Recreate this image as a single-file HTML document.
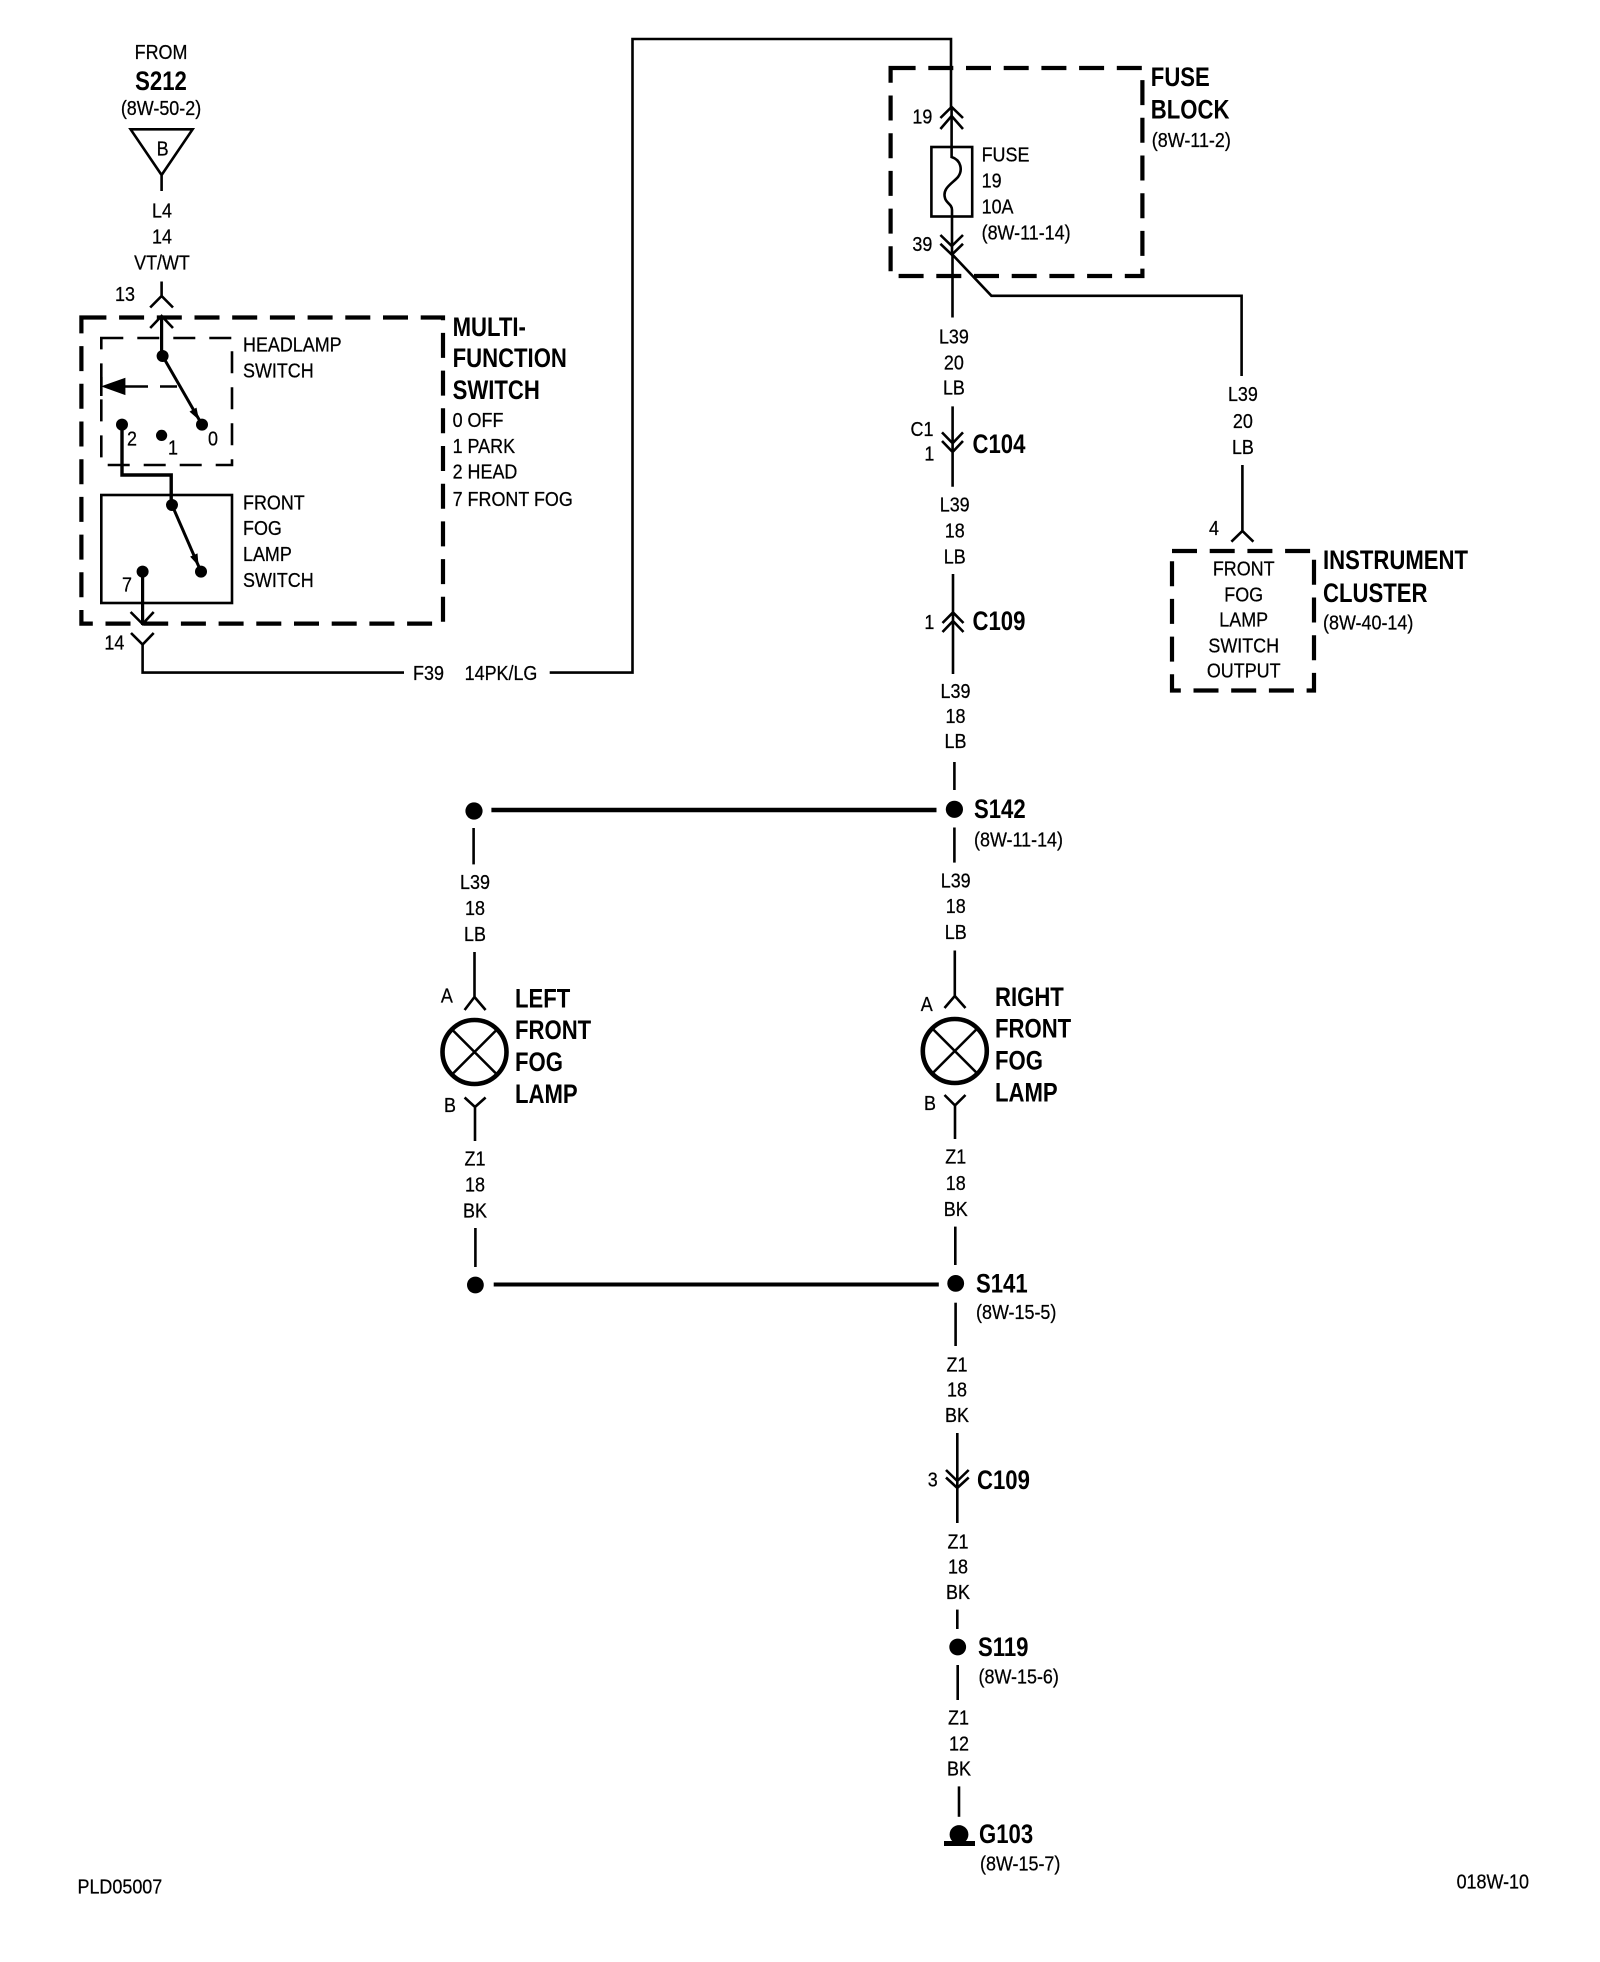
<!DOCTYPE html>
<html lang="en"><head><meta charset="utf-8"><title>Front Fog Lamp Wiring Diagram</title>
<style>
html,body{margin:0;padding:0;background:#fff}
svg{display:block}
text{font-family:"Liberation Sans",Arial,sans-serif;fill:#000}
.r{font-size:20.5px;stroke:#000;stroke-width:.25px;translate:0 -1px}
.b{font-size:27px;font-weight:bold;translate:-1px -1px}
.m{text-anchor:middle}
.l{fill:none;stroke:#000;stroke-width:2.6}
.t{fill:none;stroke:#000;stroke-width:4.6}
.d{fill:none;stroke:#000;stroke-width:4.2;stroke-dasharray:25 12.7}
.s{fill:none;stroke:#000;stroke-width:2.6;stroke-dasharray:22 14}
</style></head><body>
<svg width="1600" height="1962" viewBox="0 0 1600 1962" xmlns="http://www.w3.org/2000/svg">
<rect width="1600" height="1962" fill="#fff"/>

<!-- top-left source -->
<text class="r m" transform="translate(161 60) scale(.875 1)">FROM</text>
<text class="b m" transform="translate(162 91) scale(.82 1)">S212</text>
<text class="r m" transform="translate(161 116) scale(.875 1)">(8W-50-2)</text>
<text class="r m" transform="translate(162.6 156.5) scale(.875 1)">B</text>
<text class="r m" transform="translate(162 218.5) scale(.875 1)">L4</text>
<text class="r m" transform="translate(162 244.5) scale(.875 1)">14</text>
<text class="r m" transform="translate(162 270.5) scale(.875 1)">VT/WT</text>
<text class="r m" transform="translate(125 302) scale(.875 1)">13</text>
<path class="l" d="M130.6 129.3H192.6L161.6 175ZM161.6 175V191"/>
<path class="l" d="M161.6 281.5V296M150.2 307.5L161.6 296L173 307.5"/>
<path class="l" d="M150.2 328L161.6 316L173 328"/>
<path class="t" d="M161.6 316V356" style="stroke-width:3.2"/>

<!-- multi-function switch -->
<path class="d" d="M81.4 317.5H443V623.6H81.4Z"/>
<path class="s" d="M101.3 338H232V465H101.3Z"/>
<rect class="l" x="101.3" y="495" width="130.7" height="108"/>
<circle cx="162.6" cy="356" r="6"/>
<circle cx="202" cy="424.6" r="6"/>
<circle cx="122" cy="424.6" r="6"/>
<circle cx="161.6" cy="435.4" r="5.6"/>
<path class="l" d="M162.6 356L202 424.6" style="stroke-width:3"/>
<polygon points="199,420 196.5,407.6 189.5,411.6"/>
<polygon points="101,386.4 125.4,377.7 125.4,395.1"/>
<path class="l" d="M125 386.5H148M160 386.5H177"/>
<path class="l" d="M101.3 377V396"/>
<path class="l" d="M122 424.6V475H171.2V505" style="stroke-width:3.4"/>
<circle cx="172" cy="505" r="6"/>
<path class="l" d="M172 505L201 571.6" style="stroke-width:3"/>
<polygon points="198.6,566 197.5,553.4 190.1,556.6"/>
<circle cx="201" cy="571.6" r="6"/>
<circle cx="142.6" cy="571.6" r="6"/>
<path class="l" d="M142.6 571.6V625" style="stroke-width:3.2"/>
<path class="l" d="M130.6 612L142.6 624L153.7 612"/>
<path class="l" d="M131 633L142.6 644.5L153.7 633"/>
<path class="l" d="M142.6 644.5V672.6H404M549.7 672.6H632.5V39H951V107"/>

<text class="r m" transform="translate(132 446.5) scale(.875 1)">2</text>
<text class="r m" transform="translate(173 455.5) scale(.875 1)">1</text>
<text class="r m" transform="translate(213 446.5) scale(.875 1)">0</text>
<text class="r m" transform="translate(127 592.5) scale(.875 1)">7</text>
<text class="r m" transform="translate(114.4 650.5) scale(.875 1)">14</text>
<text class="r m" transform="translate(428.5 681) scale(.875 1)">F39</text>
<text class="r m" transform="translate(501 681) scale(.875 1)">14PK/LG</text>

<text class="r" transform="translate(243 352.5) scale(.875 1)">HEADLAMP</text>
<text class="r" transform="translate(243 378.5) scale(.875 1)">SWITCH</text>
<text class="r" transform="translate(243 510.5) scale(.875 1)">FRONT</text>
<text class="r" transform="translate(243 536) scale(.875 1)">FOG</text>
<text class="r" transform="translate(243 562) scale(.875 1)">LAMP</text>
<text class="r" transform="translate(243 588) scale(.875 1)">SWITCH</text>
<text class="b" transform="translate(453.6 337) scale(.82 1)">MULTI-</text>
<text class="b" transform="translate(453.6 368) scale(.82 1)">FUNCTION</text>
<text class="b" transform="translate(453.6 400) scale(.82 1)">SWITCH</text>
<text class="r" transform="translate(452.6 428) scale(.875 1)">0 OFF</text>
<text class="r" transform="translate(452.6 454) scale(.875 1)">1 PARK</text>
<text class="r" transform="translate(452.6 479.5) scale(.875 1)">2 HEAD</text>
<text class="r" transform="translate(452.6 507) scale(.875 1)">7 FRONT FOG</text>

<!-- fuse block -->
<path class="d" d="M890.6 68H1142.4V276H890.6Z"/>
<path class="l" d="M940.4 118L951.6 107L963 118M940.4 129L951.6 116L963 129"/>
<path class="l" d="M951.6 107V157C961 160 963 170 958 177C953 183 942 188 945 198C946 203 952 204 952 210V254"/>
<rect class="l" x="931.4" y="147" width="40.8" height="69.5"/>
<path class="l" d="M940.4 235L951.8 246L963 235M940.4 243.8L951.8 254.7L963 243.8"/>
<path class="l" d="M952.5 254.7V317.5M952.5 254.7L991.4 295.8H1241.6V376"/>
<text class="r m" transform="translate(922.4 124.5) scale(.875 1)">19</text>
<text class="r m" transform="translate(922.4 252) scale(.875 1)">39</text>
<text class="r" transform="translate(981.6 162.5) scale(.875 1)">FUSE</text>
<text class="r" transform="translate(981.6 188.5) scale(.875 1)">19</text>
<text class="r" transform="translate(981.6 214.5) scale(.875 1)">10A</text>
<text class="r" transform="translate(981.6 240.5) scale(.875 1)">(8W-11-14)</text>
<text class="b" transform="translate(1151.8 87) scale(.82 1)">FUSE</text>
<text class="b" transform="translate(1151.8 119.4) scale(.82 1)">BLOCK</text>
<text class="r" transform="translate(1151.8 148) scale(.875 1)">(8W-11-2)</text>

<!-- main vertical top -->
<text class="r m" transform="translate(953.9 344.5) scale(.875 1)">L39</text>
<text class="r m" transform="translate(953.9 370.5) scale(.875 1)">20</text>
<text class="r m" transform="translate(953.9 395.5) scale(.875 1)">LB</text>
<path class="l" d="M952.6 406.4V486.7M942 432.4L952.6 443.3L963 432.4M942 441L952.6 452L963 441"/>
<text class="r m" transform="translate(922 437) scale(.875 1)">C1</text>
<text class="r m" transform="translate(929.4 461.5) scale(.875 1)">1</text>
<text class="b" transform="translate(973.5 454) scale(.82 1)">C104</text>
<text class="r m" transform="translate(954.7 512.5) scale(.875 1)">L39</text>
<text class="r m" transform="translate(954.7 538.5) scale(.875 1)">18</text>
<text class="r m" transform="translate(954.7 564.5) scale(.875 1)">LB</text>
<path class="l" d="M953 574V674M942.5 623L953 612.4L963.5 623M942.5 632L953 621L963.5 632"/>
<text class="r m" transform="translate(929.4 630) scale(.875 1)">1</text>
<text class="b" transform="translate(973.5 631) scale(.82 1)">C109</text>
<text class="r m" transform="translate(955.5 699) scale(.875 1)">L39</text>
<text class="r m" transform="translate(955.5 724) scale(.875 1)">18</text>
<text class="r m" transform="translate(955.5 749) scale(.875 1)">LB</text>
<path class="l" d="M954.4 762V790"/>

<!-- instrument cluster -->
<text class="r m" transform="translate(1242.9 402) scale(.875 1)">L39</text>
<text class="r m" transform="translate(1242.9 429) scale(.875 1)">20</text>
<text class="r m" transform="translate(1242.9 455) scale(.875 1)">LB</text>
<path class="l" d="M1242.4 465V531M1231.4 541.7L1242.4 531L1253.4 541.7"/>
<text class="r m" transform="translate(1214 536) scale(.875 1)">4</text>
<path class="d" d="M1172 551H1314V690.5H1172Z"/>
<text class="r m" transform="translate(1243.7 576.5) scale(.875 1)">FRONT</text>
<text class="r m" transform="translate(1243.7 602.5) scale(.875 1)">FOG</text>
<text class="r m" transform="translate(1243.7 627.5) scale(.875 1)">LAMP</text>
<text class="r m" transform="translate(1243.7 653.5) scale(.875 1)">SWITCH</text>
<text class="r m" transform="translate(1243.7 678.5) scale(.875 1)">OUTPUT</text>
<text class="b" transform="translate(1324 570) scale(.82 1)">INSTRUMENT</text>
<text class="b" transform="translate(1324 603) scale(.82 1)">CLUSTER</text>
<text class="r" transform="translate(1323 630.5) scale(.875 1)">(8W-40-14)</text>

<!-- splice S142 -->
<circle cx="954.4" cy="809.3" r="8.6"/>
<circle cx="474" cy="811" r="8.6"/>
<path class="t" d="M491.4 810H936.5"/>
<text class="b" transform="translate(975 819) scale(.82 1)">S142</text>
<text class="r" transform="translate(974 847.5) scale(.875 1)">(8W-11-14)</text>

<!-- left lamp -->
<path class="l" d="M473.6 828V864.4"/>
<text class="r m" transform="translate(475 890) scale(.875 1)">L39</text>
<text class="r m" transform="translate(475 916) scale(.875 1)">18</text>
<text class="r m" transform="translate(475 942) scale(.875 1)">LB</text>
<path class="l" d="M474.5 952V997M464.6 1010L474.5 997L485.6 1010"/>
<circle class="t" cx="474.5" cy="1052" r="32"/>
<path class="l" d="M451.5 1029L497.5 1075M497.5 1029L451.5 1075"/>
<text class="r m" transform="translate(446.8 1003.5) scale(.875 1)">A</text>
<text class="r m" transform="translate(450 1113) scale(.875 1)">B</text>
<path class="l" d="M464.6 1097.5L475 1107L485.6 1097.5M475 1107V1141"/>
<text class="r m" transform="translate(475 1166.5) scale(.875 1)">Z1</text>
<text class="r m" transform="translate(475 1192.5) scale(.875 1)">18</text>
<text class="r m" transform="translate(475 1218.5) scale(.875 1)">BK</text>
<path class="l" d="M475.4 1228V1267"/>
<circle cx="475.4" cy="1285" r="8.4"/>
<path class="t" d="M493.7 1284.5H938.8" style="stroke-width:4"/>
<text class="b" transform="translate(516 1008.7) scale(.82 1)">LEFT</text>
<text class="b" transform="translate(516 1040) scale(.82 1)">FRONT</text>
<text class="b" transform="translate(516 1072) scale(.82 1)">FOG</text>
<text class="b" transform="translate(516 1104) scale(.82 1)">LAMP</text>

<!-- right lamp -->
<path class="l" d="M954.4 827.5V862.6"/>
<text class="r m" transform="translate(955.7 888.5) scale(.875 1)">L39</text>
<text class="r m" transform="translate(955.7 914) scale(.875 1)">18</text>
<text class="r m" transform="translate(955.7 940) scale(.875 1)">LB</text>
<path class="l" d="M954.8 950.5V996M944.5 1008L954.8 996L965.5 1008"/>
<circle class="t" cx="954.8" cy="1051" r="32"/>
<path class="l" d="M931.8 1028L977.8 1074M977.8 1028L931.8 1074"/>
<text class="r m" transform="translate(926.7 1012) scale(.875 1)">A</text>
<text class="r m" transform="translate(930 1111.2) scale(.875 1)">B</text>
<path class="l" d="M944.5 1095L955 1105.4L965.5 1095M955 1105.4V1139"/>
<text class="r m" transform="translate(955.7 1164.5) scale(.875 1)">Z1</text>
<text class="r m" transform="translate(955.7 1191) scale(.875 1)">18</text>
<text class="r m" transform="translate(955.7 1217) scale(.875 1)">BK</text>
<path class="l" d="M955.3 1226.6V1265"/>
<text class="b" transform="translate(996 1007) scale(.82 1)">RIGHT</text>
<text class="b" transform="translate(996 1038.6) scale(.82 1)">FRONT</text>
<text class="b" transform="translate(996 1070.6) scale(.82 1)">FOG</text>
<text class="b" transform="translate(996 1102.7) scale(.82 1)">LAMP</text>

<!-- splice S141 and below -->
<circle cx="955.7" cy="1283.4" r="8.4"/>
<text class="b" transform="translate(977 1293.4) scale(.82 1)">S141</text>
<text class="r" transform="translate(976 1320) scale(.875 1)">(8W-15-5)</text>
<path class="l" d="M955.6 1302.7V1346"/>
<text class="r m" transform="translate(957 1372.5) scale(.875 1)">Z1</text>
<text class="r m" transform="translate(957 1397.5) scale(.875 1)">18</text>
<text class="r m" transform="translate(957 1423) scale(.875 1)">BK</text>
<path class="l" d="M957.3 1433V1523M946 1470L957.3 1481L968.7 1470M946 1477.5L957.3 1488L968.7 1477.5"/>
<text class="r m" transform="translate(932.7 1487.5) scale(.875 1)">3</text>
<text class="b" transform="translate(978 1490) scale(.82 1)">C109</text>
<text class="r m" transform="translate(958 1549.3) scale(.875 1)">Z1</text>
<text class="r m" transform="translate(958 1574.3) scale(.875 1)">18</text>
<text class="r m" transform="translate(958 1600) scale(.875 1)">BK</text>
<path class="l" d="M957.3 1609.6V1629"/>
<circle cx="957.7" cy="1647" r="8.4"/>
<text class="b" transform="translate(979 1657) scale(.82 1)">S119</text>
<text class="r" transform="translate(978.5 1684.3) scale(.875 1)">(8W-15-6)</text>
<path class="l" d="M957.7 1665V1700"/>
<text class="r m" transform="translate(958.5 1725.4) scale(.875 1)">Z1</text>
<text class="r m" transform="translate(959 1751.5) scale(.875 1)">12</text>
<text class="r m" transform="translate(959 1776.5) scale(.875 1)">BK</text>
<path class="l" d="M959 1786.4V1816.8"/>
<circle cx="959" cy="1834.5" r="9.4"/>
<rect x="944" y="1841" width="31" height="5"/>
<text class="b" transform="translate(980 1844) scale(.82 1)">G103</text>
<text class="r" transform="translate(980 1871.5) scale(.875 1)">(8W-15-7)</text>

<text class="r" transform="translate(77.5 1894.5) scale(.875 1)">PLD05007</text>
<text class="r" transform="translate(1529 1889.5) scale(.875 1)" text-anchor="end">018W-10</text>
</svg>
</body></html>
